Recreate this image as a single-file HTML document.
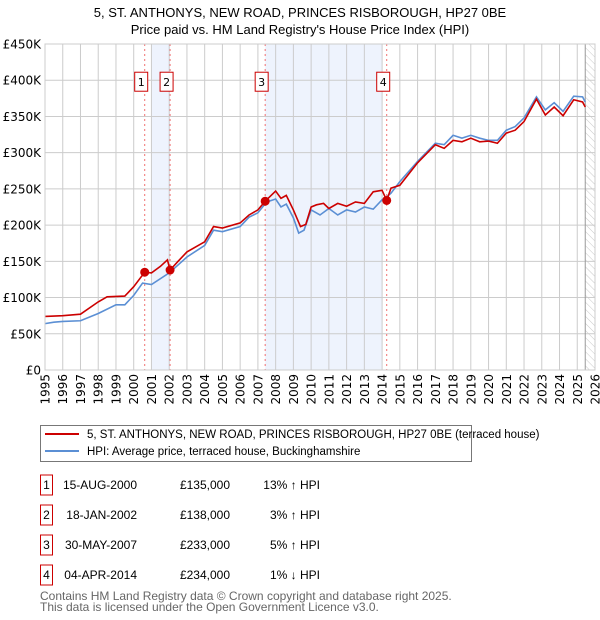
<!DOCTYPE html>
<html><head><meta charset="utf-8"><style>
body{margin:0;background:#fff}
svg{display:block;font-family:"DejaVu Sans","Liberation Sans",sans-serif}
.n{font-family:"Liberation Sans",sans-serif}
</style></head><body>
<svg id="chart" width="600" height="620" xmlns="http://www.w3.org/2000/svg">
<text class="n" x="300" y="17" text-anchor="middle" font-size="13">5, ST. ANTHONYS, NEW ROAD, PRINCES RISBOROUGH, HP27 0BE</text>
<text class="n" x="300" y="34" text-anchor="middle" font-size="13">Price paid vs. HM Land Registry's House Price Index (HPI)</text>
<defs><pattern id="hatch" width="5" height="5" patternUnits="userSpaceOnUse" patternTransform="rotate(-45)"><line x1="0" y1="0" x2="0" y2="5" stroke="#bbb" stroke-width="0.8"/></pattern></defs>
<g id="plot"></g>
<g class="n">
<rect x="40.5" y="425.5" width="431" height="36" fill="#fff" stroke="#777"/>
<line x1="45" y1="434" x2="79" y2="434" stroke="#cc0000" stroke-width="2"/>
<text x="87" y="438" font-size="11.5">5, ST. ANTHONYS, NEW ROAD, PRINCES RISBOROUGH, HP27 0BE (terraced house)</text>
<line x1="45" y1="451" x2="79" y2="451" stroke="#5b8fd4" stroke-width="2"/>
<text x="87" y="455" font-size="11.5">HPI: Average price, terraced house, Buckinghamshire</text>
</g>
<g id="table" font-size="12" class="n"></g>
<text class="n" x="40" y="600" font-size="12" fill="#666">Contains HM Land Registry data © Crown copyright and database right 2025.</text>
<text class="n" x="40" y="611" font-size="12" fill="#666">This data is licensed under the Open Government Licence v3.0.</text>
</svg>
<script>
const hpiYears=[1995,1995.5,1996,1997,1998,1999,1999.5,2000,2000.5,2001,2002,2003,2004,2004.5,2005,2006,2006.5,2007,2007.5,2008,2008.3,2008.6,2009,2009.3,2009.6,2010,2010.5,2011,2011.5,2012,2012.5,2013,2013.5,2014,2014.26,2014.5,2015,2016,2017,2017.5,2018,2018.5,2019,2019.5,2020,2020.5,2021,2021.5,2022,2022.7,2023.2,2023.7,2024.2,2024.8,2025.3,2025.45];
const hpiValues=[64,66,67,68,78,90,90,103,120,118,134,156,172,193,191,198,211,217,232,236,225,229,210,189,193,221,214,223,214,221,218,225,222,235,239,244,260,288,313,311,324,320,324,320,317,317,331,336,348,377,359,369,357,378,377,370];
const ppYears=[1995,1996,1997,1998,1998.5,1999.5,2000,2000.62,2001,2001.5,2001.9,2002.05,2002.5,2003,2004,2004.5,2005,2006,2006.5,2007,2007.41,2008,2008.3,2008.6,2009,2009.4,2009.7,2010,2010.3,2010.7,2011,2011.5,2012,2012.5,2013,2013.5,2014,2014.26,2014.5,2015,2016,2017,2017.5,2018,2018.5,2019,2019.5,2020,2020.5,2021,2021.5,2022,2022.7,2023.2,2023.7,2024.2,2024.8,2025.3,2025.45];
const ppValues=[74,75,77,94,101,102,115,135,134,143,152,138,150,163,177,198,196,203,214,221,233,247,237,241,221,198,201,225,228,230,223,230,226,232,230,246,248,234,251,255,286,311,306,317,315,320,315,316,313,327,331,343,374,352,363,351,373,370,363];
const saleYears=[2000.62,2002.05,2007.41,2014.26];
const salePrices=[135000,138000,233000,234000];
const saleLabels=["1","2","3","4"];
const saleDates=["15-AUG-2000","18-JAN-2002","30-MAY-2007","04-APR-2014"];
const salePriceText=["£135,000","£138,000","£233,000","£234,000"];
const saleHpiText=["13% ↑ HPI","3% ↑ HPI","5% ↑ HPI","1% ↓ HPI"];
const yTicks=[0,50,100,150,200,250,300,350,400,450];
const yTickLabels=["£0","£50K","£100K","£150K","£200K","£250K","£300K","£350K","£400K","£450K"];
const xTicks=[1995,1996,1997,1998,1999,2000,2001,2002,2003,2004,2005,2006,2007,2008,2009,2010,2011,2012,2013,2014,2015,2016,2017,2018,2019,2020,2021,2022,2023,2024,2025,2026];

const L=45,R=595,T=44,B=370;
const X=y=>L+(y-1995)*(R-L)/31;
const Y=v=>B-v*(B-T)/450;
const NS="http://www.w3.org/2000/svg";
function mk(tag,attrs,parent){const e=document.createElementNS(NS,tag);for(const k in attrs)e.setAttribute(k,attrs[k]);parent.appendChild(e);return e;}
const plot=document.getElementById('plot');
let s=mk('rect',{x:X(2001.0),y:T,width:X(2002.05)-X(2001.0),height:B-T,fill:'#eef3fd'},plot);


s=mk('rect',{x:X(2007.41),y:T,width:X(2014.0)-X(2007.41),height:B-T,fill:'#eef3fd'},plot);


s=mk('rect',{x:X(2025.45),y:T,width:R-X(2025.45),height:B-T,fill:'url(#hatch)'},plot);


yTicks.forEach((v,i)=>{
 const g=mk('line',{x1:L,x2:R,y1:Y(v),y2:Y(v),stroke:'#ccc','stroke-width':1},plot);
 
 
 const t=mk('text',{x:L-4,y:Y(v)+4.5,'text-anchor':'end','font-size':12},plot);
 t.textContent=yTickLabels[i];
 
 
});
xTicks.forEach(yr=>{
 const g=mk('line',{x1:X(yr),x2:X(yr),y1:T,y2:B,stroke:'#ccc','stroke-width':1},plot);
 
 
 const t=mk('text',{x:0,y:0,'text-anchor':'end','font-size':12,transform:`translate(${X(yr)+4.5},${B+4}) rotate(-90)`},plot);
 t.textContent=yr;
 
 
});
const bl=mk('line',{x1:X(2025.45),x2:X(2025.45),y1:T,y2:B,stroke:'#999','stroke-width':1},plot);


saleYears.forEach((yr,i)=>{
 const l=mk('line',{x1:X(yr),x2:X(yr),y1:T,y2:B,stroke:'#f07070','stroke-width':1,'stroke-dasharray':'2,3'},plot);
 
 
});
const hp=mk('polyline',{points:hpiYears.map((y,i)=>X(y)+','+Y(hpiValues[i])).join(' '),fill:'none',stroke:'#5b8fd4','stroke-width':1.6},plot);


const pp=mk('polyline',{points:ppYears.map((y,i)=>X(y)+','+Y(ppValues[i])).join(' '),fill:'none',stroke:'#cc0000','stroke-width':1.6},plot);


saleYears.forEach((yr,i)=>{
 const c=mk('circle',{cx:X(yr),cy:Y(salePrices[i]/1000),r:4.5,fill:'#cc0000'},plot);
 
 
 const b=mk('rect',{x:X(yr)-10,y:Y(400)-8,width:13,height:19,fill:'#fff',stroke:'#cc0000','stroke-width':1},plot);
 
 
 const t=mk('text',{x:X(yr)-3.5,y:Y(400)+6,'text-anchor':'middle','font-size':11},plot);
 t.textContent=saleLabels[i];
 
 
});
const fr=mk('rect',{x:L,y:T,width:R-L,height:B-T,fill:'none',stroke:'#ccc'},plot);


const tb=document.getElementById('table');
saleLabels.forEach((lab,i)=>{
 const cy=485+i*30;
 const b=mk('rect',{x:40.5,y:cy-10,width:12,height:20,fill:'none',stroke:'#cc0000'},tb);
 
 
 let t=mk('text',{x:46.5,y:cy+4,'text-anchor':'middle'},tb);t.textContent=lab;
 
 
 t=mk('text',{x:137,y:cy+4,'text-anchor':'end'},tb);t.textContent=saleDates[i];
 
 
 t=mk('text',{x:230,y:cy+4,'text-anchor':'end'},tb);t.textContent=salePriceText[i];
 
 
 t=mk('text',{x:320,y:cy+4,'text-anchor':'end'},tb);t.textContent=saleHpiText[i];
 
 
});
</script>
</body></html>
